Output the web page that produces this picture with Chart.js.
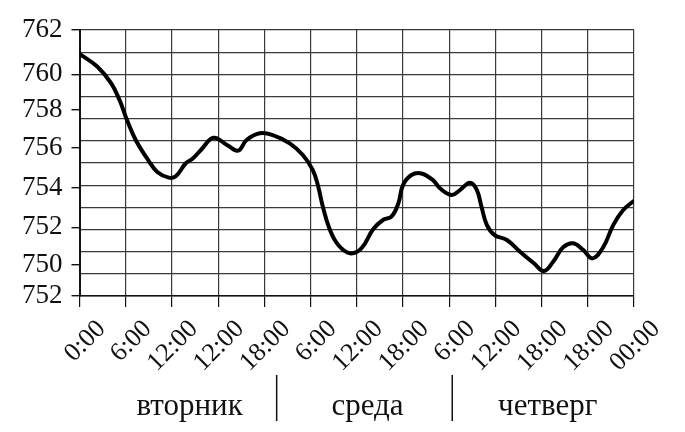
<!DOCTYPE html>
<html>
<head>
<meta charset="utf-8">
<script src="https://cdn.jsdelivr.net/npm/chart.js@4"></script>
<style>
  html, body { margin: 0; padding: 0; background: #fff; }
  #wrap { width: 685px; height: 432px; }
</style>
</head>
<body>
<div id="wrap"><canvas id="myChart"></canvas></div>
<script>
// hours since Tuesday 0:00 and pressure (mm Hg)
const hours = [0, 2.3, 4.1, 5.2, 6.1, 7.3, 8.9, 10.1, 11.6, 12.5, 13.8, 14.7, 15.8, 17.4, 19.2, 20.6, 21.7, 23.4, 25.1, 27.3, 29.0, 30.3, 31.0, 31.6, 32.5, 33.6, 35.1, 36.6, 38.1, 39.4, 40.5, 41.4, 42.0, 43.1, 44.4, 45.9, 46.8, 48.3, 49.4, 50.7, 51.6, 52.2, 52.9, 53.9, 55.5, 57.2, 59.0, 60.3, 61.5, 62.8, 64.1, 65.4, 66.6, 68.0, 69.3, 70.6, 72];
const pressure = [760.92, 760.35, 759.6, 758.84, 758.0, 757.04, 756.14, 755.6, 755.34, 755.4, 755.99, 756.2, 756.6, 757.14, 756.8, 756.56, 757.04, 757.34, 757.26, 756.89, 756.36, 755.68, 754.93, 754.03, 753.0, 752.3, 751.93, 752.15, 753.0, 753.43, 753.58, 754.18, 755.0, 755.46, 755.53, 755.23, 754.86, 754.56, 754.78, 755.11, 754.78, 754.03, 753.2, 752.75, 752.53, 752.0, 751.48, 751.13, 751.55, 752.2, 752.38, 752.08, 751.7, 752.2, 753.2, 753.88, 754.3];

const xTickValues = [0, 6, 12, 18, 24, 30, 36, 42, 48, 54, 60, 66, 72];
const xTickLabels = ['0:00', '6:00', '12:00', '12:00', '18:00', '6:00', '12:00', '18:00', '6:00', '12:00', '18:00', '18:00', '00:00'];

// y labels as printed (the bottom one really says 752)
const yTickValues = [762, 760, 758.4, 756.7, 754.9, 753.1, 751.4, 750];
const yTickLabels = ['762', '760', '758', '756', '754', '752', '750', '752'];

const dayLabels = ['вторник', 'среда', 'четверг'];
const dayCenters = [14.3, 37.4, 60.8];
const daySeparators = [25.6, 48.4];

const gridColor = '#3a3a3a';
const serif = 'Liberation Serif';

const dayPlugin = {
  id: 'days',
  afterDraw(chart) {
    const c = chart.ctx;
    const xs = chart.scales.x;
    const y = chart.height - 25;
    c.save();
    c.fillStyle = '#111';
    c.font = '31px "' + serif + '"';
    c.textAlign = 'center';
    c.textBaseline = 'middle';
    dayLabels.forEach((t, i) => c.fillText(t, xs.getPixelForValue(dayCenters[i]), y));
    c.strokeStyle = '#111';
    c.lineWidth = 1.5;
    daySeparators.forEach(h => {
      const px = xs.getPixelForValue(h);
      c.beginPath();
      c.moveTo(px, y - 32);
      c.lineTo(px, y + 14);
      c.stroke();
    });
    c.restore();
  }
};

const ctx = document.getElementById('myChart').getContext('2d');
let myChart = new Chart(ctx, {
  type: 'line',
  data: {
    datasets: [{
      data: hours.map((h, i) => ({ x: h, y: pressure[i] })),
      borderColor: '#000',
      borderWidth: 4,
      pointRadius: 0,
      tension: 0.4,
      fill: false
    }]
  },
  options: {
    responsive: true,
    maintainAspectRatio: false,
    animation: false,
    layout: { padding: { left: 13, right: 51, top: 30, bottom: 47 } },
    plugins: { legend: { display: false }, tooltip: { enabled: false } },
    scales: {
      x: {
        type: 'linear',
        min: 0,
        max: 72,
        afterBuildTicks: s => { s.ticks = xTickValues.map(v => ({ value: v })); },
        ticks: {
          autoSkip: false,
          minRotation: 45,
          maxRotation: 45,
          labelOffset: 22,
          padding: 7,
          color: '#111',
          font: { family: serif, size: 26 },
          callback: (v, i) => xTickLabels[i]
        },
        grid: { color: gridColor, lineWidth: 1.2, tickLength: 11, tickColor: '#111' },
        border: { color: '#111', width: 1.6 }
      },
      y: {
        min: 750,
        max: 762,
        afterBuildTicks: s => { s.ticks = yTickValues.map(v => ({ value: v })); },
        ticks: {
          padding: 9,
          color: '#111',
          font: { family: serif, size: 27 },
          callback: (v, i) => yTickLabels[i]
        },
        grid: { drawOnChartArea: false, tickLength: 8, tickColor: '#111', lineWidth: 1.4 },
        border: { color: '#111', width: 2 }
      },
      yGrid: {
        position: 'left',
        min: 750,
        max: 762,
        ticks: { display: false, stepSize: 1 },
        grid: { color: gridColor, lineWidth: 1.2, drawTicks: false },
        border: { display: false }
      }
    }
  },
  plugins: [dayPlugin]
});
</script>
</body>
</html>
